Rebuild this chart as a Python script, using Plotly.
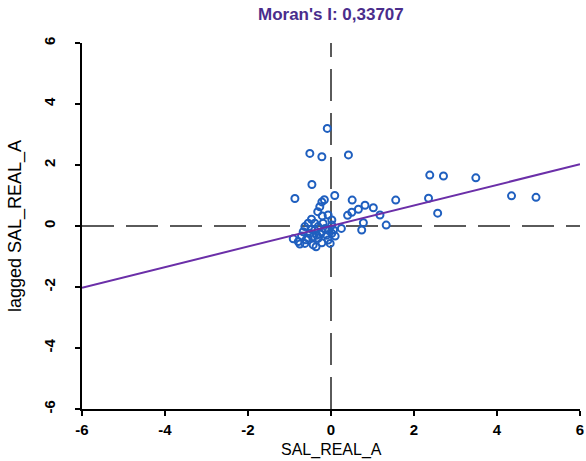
import plotly.graph_objects as go

moran_i = 0.33707
title_text = "Moran's I: 0,33707"
x_title = "SAL_REAL_A"
y_title = "lagged SAL_REAL_A"

tick_vals = [-6, -4, -2, 0, 2, 4, 6]
tick_text = ["-6", "-4", "-2", "0", "2", "4", "6"]

sal_real_a = [
    -0.09, -0.51, -0.22, 0.42, -0.46, -0.87, -0.16, -0.22, 0.09, 0.51,
    1.56, 2.38, 2.71, 3.49, 2.35, 2.57, 4.35, 4.94, 1.33, 1.18,
    0.82, 1.02, 0.66, 0.50, 0.40, 0.78, 0.74, 0.25, 0.10, -0.27,
    -0.32, -0.21, -0.07, 0.02, -0.47, -0.55, -0.63, -0.67, 0.02, 0.06,
    0.02, -0.91, -0.79, -0.63, -0.43, -0.36, -0.22, -0.07, -0.02, -0.31,
    -0.51, -0.39, -0.34, -0.22, -0.14, -0.43, -0.55, -0.31, -0.19, -0.10,
    -0.39, -0.47, -0.71, -0.75, -0.60, -0.26, -0.05,
]
lagged_sal_real_a = [
    3.20, 2.38, 2.27, 2.33, 1.36, 0.90, 0.86, 0.79, 1.00, 0.85,
    0.85, 1.67, 1.64, 1.58, 0.91, 0.42, 0.99, 0.94, 0.03, 0.36,
    0.68, 0.60, 0.55, 0.45, 0.35, 0.11, -0.13, -0.08, -0.33, 0.63,
    0.47, 0.33, 0.36, 0.20, 0.22, 0.09, -0.02, -0.19, 0.03, -0.13,
    -0.24, -0.42, -0.51, -0.57, -0.62, -0.68, -0.55, -0.46, -0.57, -0.40,
    -0.24, -0.13, -0.30, -0.19, -0.08, -0.35, -0.40, -0.02, 0.09, -0.30,
    0.09, -0.11, -0.33, -0.59, -0.45, -0.27, -0.15,
]

axis_min, axis_max = -6, 6
line_x = [axis_min, axis_max]
line_y = [moran_i * v for v in line_x]

fig = go.Figure()
fig.add_vline(x=0, line=dict(color="#5a5a5a", width=2, dash="32px,12px"), layer="below")
fig.add_hline(y=0, line=dict(color="#5a5a5a", width=2, dash="32px,12px"), layer="below")

fig.add_trace(go.Scatter(
    x=sal_real_a, y=lagged_sal_real_a, mode="markers",
    marker=dict(symbol="circle-open", size=7, color="#1f5fbf", line=dict(width=2, color="#1f5fbf")),
    showlegend=False, hoverinfo="skip",
))
fig.add_trace(go.Scatter(
    x=line_x, y=line_y, mode="lines",
    line=dict(color="#6b2fa8", width=2),
    showlegend=False, hoverinfo="skip",
))

axis_common = dict(
    range=[axis_min, axis_max], tickmode="array", tickvals=tick_vals, ticktext=tick_text,
    showline=True, linecolor="black", linewidth=2, ticks="outside", ticklen=5,
    tickwidth=2, tickcolor="black", showgrid=False, zeroline=False,
    tickfont=dict(family="Liberation Sans, Arial", size=15, color="black", weight="bold"),
)

L, R, T, B = 82, 6, 43, 52
W, H = 586, 461
pw = W - L - R
ph = H - T - B

fig.update_xaxes(**axis_common, ticklabelstandoff=1)
fig.update_yaxes(**axis_common, tickangle=-90, ticklabelstandoff=14)

fig.update_layout(
    width=W, height=H,
    margin=dict(l=L, r=R, t=T, b=B, pad=0, autoexpand=False),
    plot_bgcolor="white", paper_bgcolor="white",
    font=dict(family="Liberation Sans, Arial", color="black"),
    annotations=[
        dict(text=title_text, xref="paper", yref="paper", x=0.5, y=(H - 15 - B) / ph,
             showarrow=False, xanchor="center", yanchor="middle",
             font=dict(size=17, color="#4a2d8c", weight="bold")),
        dict(text=x_title, xref="paper", yref="paper", x=0.5, y=(H - 461 - B) / ph,
             showarrow=False, xanchor="center", yanchor="bottom",
             font=dict(size=16, color="black")),
        dict(text=y_title, xref="paper", yref="paper", x=(15 - L) / pw, y=0.5,
             textangle=-90, showarrow=False, xanchor="center", yanchor="middle",
             font=dict(size=18, color="black")),
    ],
)

fig.write_html("out.html", config={"displayModeBar": False},
               post_script="document.body.style.margin='0';")
